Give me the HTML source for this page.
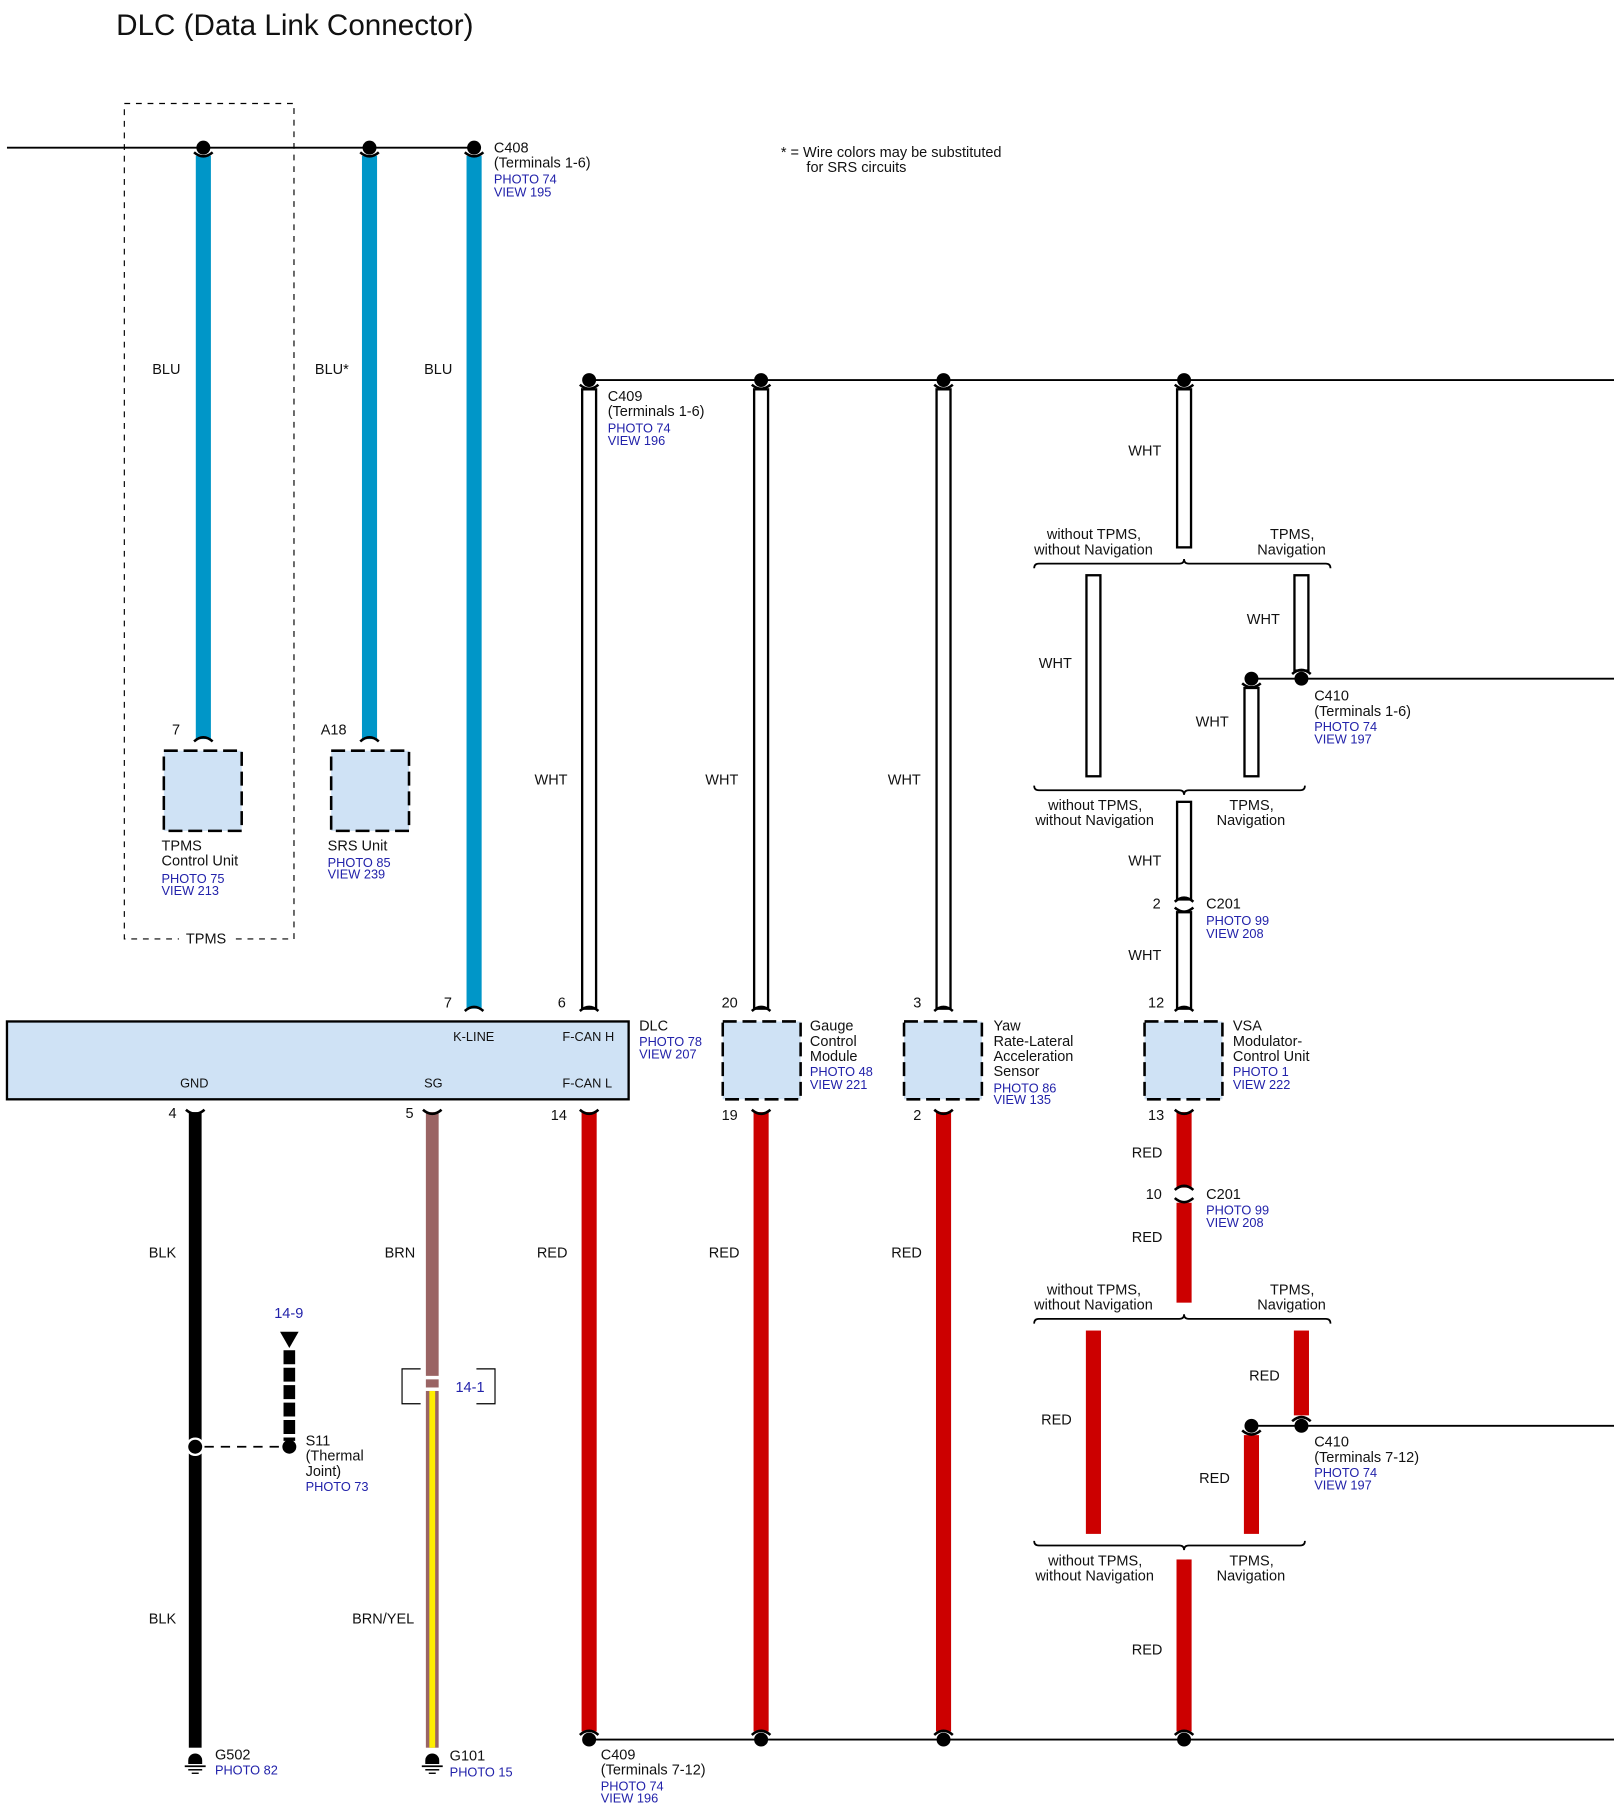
<!DOCTYPE html>
<html><head><meta charset="utf-8"><style>
html,body{margin:0;padding:0;background:#fff;}
svg{display:block}
text{font-family:"Liberation Sans",Arial,sans-serif;font-size:12.5px;fill:#111}
.b{fill:#2222aa}
</style></head><body>
<svg width="1614" height="1814" viewBox="0 0 1389 1561" xmlns="http://www.w3.org/2000/svg">
<defs>
<path id="capd" d="M-8,4 Q0,11 8,4" fill="none" stroke="#000" stroke-width="2.2"/>
<path id="capu" d="M-8,-4 Q0,-11 8,-4" fill="none" stroke="#000" stroke-width="2.2"/>
</defs>
<text x="100" y="30" style="font-size:25.5px">DLC (Data Link Connector)</text>

<!-- TPMS dashed box -->
<rect x="107" y="89" width="146" height="719" fill="none" stroke="#000" stroke-width="1" stroke-dasharray="5,5"/>
<rect x="154" y="800" width="46" height="16" fill="#fff"/>
<text x="160" y="812">TPMS</text>

<!-- top line -->
<line x1="6" y1="127" x2="408" y2="127" stroke="#000" stroke-width="1.6"/>
<g fill="#0096c8">
<rect x="168.5" y="134" width="13" height="502"/>
<rect x="311.5" y="134" width="13" height="502"/>
<rect x="401.5" y="134" width="13" height="734"/>
</g>
<g fill="#000"><circle cx="175" cy="127" r="6"/><circle cx="318" cy="127" r="6"/><circle cx="408" cy="127" r="6"/></g>
<use href="#capd" x="175" y="127"/><use href="#capd" x="318" y="127"/><use href="#capd" x="408" y="127"/>
<use href="#capu" x="175" y="642"/><use href="#capu" x="318" y="642"/><use href="#capu" x="408" y="874"/>
<text x="131" y="322">BLU</text><text x="271" y="322">BLU*</text><text x="365" y="322">BLU</text>
<text x="425" y="131">C408</text><text x="425" y="144">(Terminals 1-6)</text>
<text x="425" y="158" class="b" style="font-size:11px">PHOTO 74</text><text x="425" y="169" class="b" style="font-size:11px">VIEW 195</text>
<text x="672" y="135">* = Wire colors may be substituted</text><text x="694" y="148">for SRS circuits</text>

<!-- TPMS / SRS boxes -->
<rect x="141" y="646" width="67" height="69" fill="#cfe2f5" stroke="#000" stroke-width="2.2" stroke-dasharray="12,5"/>
<rect x="285" y="646" width="67" height="69" fill="#cfe2f5" stroke="#000" stroke-width="2.2" stroke-dasharray="12,5"/>
<text x="148" y="632">7</text><text x="276" y="632">A18</text>
<text x="139" y="732">TPMS</text><text x="139" y="745">Control Unit</text>
<text x="139" y="760" class="b" style="font-size:11px">PHOTO 75</text><text x="139" y="770" class="b" style="font-size:11px">VIEW 213</text>
<text x="282" y="732">SRS Unit</text>
<text x="282" y="746" class="b" style="font-size:11px">PHOTO 85</text><text x="282" y="756" class="b" style="font-size:11px">VIEW 239</text>

<!-- second line -->
<line x1="507" y1="327" x2="1389" y2="327" stroke="#000" stroke-width="1.6"/>
<g fill="#fff" stroke="#000" stroke-width="2">
<rect x="501" y="335" width="12" height="533"/>
<rect x="649" y="335" width="12" height="533"/>
<rect x="806" y="335" width="12" height="533"/>
<rect x="1013" y="335" width="12" height="136"/>
<rect x="935" y="495" width="12" height="173"/>
<rect x="1114" y="495" width="12" height="82"/>
<rect x="1071" y="592" width="12" height="76"/>
<rect x="1013" y="690" width="12" height="84"/>
<rect x="1013" y="785" width="12" height="83"/>
</g>
<g fill="#000"><circle cx="507" cy="327" r="6"/><circle cx="655" cy="327" r="6"/><circle cx="812" cy="327" r="6"/><circle cx="1019" cy="327" r="6"/></g>
<use href="#capd" x="507" y="327"/><use href="#capd" x="655" y="327"/><use href="#capd" x="812" y="327"/><use href="#capd" x="1019" y="327"/>
<use href="#capu" x="507" y="874"/><use href="#capu" x="655" y="874"/><use href="#capu" x="812" y="874"/><use href="#capu" x="1019" y="874"/>
<text x="523" y="345">C409</text><text x="523" y="358">(Terminals 1-6)</text>
<text x="523" y="372" class="b" style="font-size:11px">PHOTO 74</text><text x="523" y="383" class="b" style="font-size:11px">VIEW 196</text>
<text x="460" y="675">WHT</text><text x="607" y="675">WHT</text><text x="764" y="675">WHT</text><text x="971" y="392">WHT</text>

<!-- braces -->
<g fill="none" stroke="#000" stroke-width="1.5">
<path d="M890,489 Q890,485 894,485 L1015,485 Q1019,485 1019,481 Q1019,485 1023,485 L1141,485 Q1145,485 1145,489"/>
<path d="M890,676 Q890,680 894,680 L1015,680 Q1019,680 1019,684 Q1019,680 1023,680 L1119,680 Q1123,680 1123,676"/>
<path d="M890,1139 Q890,1135 894,1135 L1015,1135 Q1019,1135 1019,1131 Q1019,1135 1023,1135 L1141,1135 Q1145,1135 1145,1139"/>
<path d="M890,1326 Q890,1330 894,1330 L1015,1330 Q1019,1330 1019,1334 Q1019,1330 1023,1330 L1119,1330 Q1123,1330 1123,1326"/>
</g>
<text x="901" y="464">without TPMS,</text><text x="890" y="477">without Navigation</text>
<text x="1093" y="464">TPMS,</text><text x="1082" y="477">Navigation</text>
<text x="902" y="697">without TPMS,</text><text x="891" y="710">without Navigation</text>
<text x="1058" y="697">TPMS,</text><text x="1047" y="710">Navigation</text>
<text x="894" y="575">WHT</text><text x="1073" y="537">WHT</text><text x="1029" y="625">WHT</text>
<line x1="1077" y1="584" x2="1389" y2="584" stroke="#000" stroke-width="1.6"/>
<circle cx="1077" cy="584" r="6"/><circle cx="1120" cy="584" r="6"/>
<use href="#capu" x="1120" y="584"/><use href="#capd" x="1077" y="584"/>
<text x="1131" y="603">C410</text><text x="1131" y="616">(Terminals 1-6)</text>
<text x="1131" y="629" class="b" style="font-size:11px">PHOTO 74</text><text x="1131" y="640" class="b" style="font-size:11px">VIEW 197</text>
<use href="#capu" x="1019" y="780"/><use href="#capd" x="1019" y="777"/>
<text x="971" y="745">WHT</text><text x="992" y="782">2</text>
<text x="1038" y="782">C201</text>
<text x="1038" y="796" class="b" style="font-size:11px">PHOTO 99</text><text x="1038" y="807" class="b" style="font-size:11px">VIEW 208</text>
<text x="971" y="826">WHT</text>

<!-- DLC box -->
<rect x="6" y="879" width="535" height="67" fill="#cfe2f5" stroke="#000" stroke-width="2"/>
<text x="390" y="896" style="font-size:11px">K-LINE</text><text x="484" y="896" style="font-size:11px">F-CAN H</text>
<text x="155" y="936" style="font-size:11px">GND</text><text x="365" y="936" style="font-size:11px">SG</text><text x="484" y="936" style="font-size:11px">F-CAN L</text>
<text x="382" y="867">7</text><text x="480" y="867">6</text><text x="145" y="962">4</text><text x="349" y="962">5</text><text x="474" y="964">14</text>
<text x="550" y="887">DLC</text>
<text x="550" y="900" class="b" style="font-size:11px">PHOTO 78</text><text x="550" y="911" class="b" style="font-size:11px">VIEW 207</text>

<g fill="#cfe2f5" stroke="#000" stroke-width="2.2" stroke-dasharray="12,5">
<rect x="622" y="879" width="67" height="67"/>
<rect x="778" y="879" width="67" height="67"/>
<rect x="985" y="879" width="67" height="67"/>
</g>
<text x="621" y="867">20</text><text x="621" y="964">19</text>
<text x="786" y="867">3</text><text x="786" y="964">2</text>
<text x="988" y="867">12</text><text x="988" y="964">13</text>
<text x="697" y="887">Gauge</text><text x="697" y="900">Control</text><text x="697" y="913">Module</text>
<text x="697" y="926" class="b" style="font-size:11px">PHOTO 48</text><text x="697" y="937" class="b" style="font-size:11px">VIEW 221</text>
<text x="855" y="887">Yaw</text><text x="855" y="900">Rate-Lateral</text><text x="855" y="913">Acceleration</text><text x="855" y="926">Sensor</text>
<text x="855" y="940" class="b" style="font-size:11px">PHOTO 86</text><text x="855" y="950" class="b" style="font-size:11px">VIEW 135</text>
<text x="1061" y="887">VSA</text><text x="1061" y="900">Modulator-</text><text x="1061" y="913">Control Unit</text>
<text x="1061" y="926" class="b" style="font-size:11px">PHOTO 1</text><text x="1061" y="937" class="b" style="font-size:11px">VIEW 222</text>

<!-- bottom wires -->
<rect x="162.5" y="957" width="11" height="547" fill="#000"/>
<rect x="366.5" y="957" width="11" height="227" fill="#9a6464"/>
<rect x="366.5" y="1187" width="11" height="7" fill="#9a6464"/>
<rect x="366.5" y="1197" width="11" height="307" fill="#9a6464"/>
<rect x="369.5" y="1197" width="5" height="307" fill="#ffee00"/>
<g fill="#cc0000">
<rect x="500.5" y="957" width="13" height="533"/>
<rect x="648.5" y="957" width="13" height="533"/>
<rect x="805.5" y="957" width="13" height="533"/>
<rect x="1012.5" y="957" width="13" height="65"/>
<rect x="1012.5" y="1035" width="13" height="86"/>
<rect x="934.5" y="1145" width="13" height="175"/>
<rect x="1113.5" y="1145" width="13" height="73"/>
<rect x="1070.5" y="1235" width="13" height="85"/>
<rect x="1012.5" y="1342" width="13" height="148"/>
</g>
<use href="#capd" x="168" y="951"/><use href="#capd" x="372" y="951"/><use href="#capd" x="507" y="951"/><use href="#capd" x="655" y="951"/><use href="#capd" x="812" y="951"/><use href="#capd" x="1019" y="951"/>
<use href="#capu" x="1019" y="1028"/><use href="#capd" x="1019" y="1027"/>
<text x="128" y="1082">BLK</text><text x="331" y="1082">BRN</text><text x="462" y="1082">RED</text><text x="610" y="1082">RED</text><text x="767" y="1082">RED</text>
<text x="974" y="996">RED</text><text x="986" y="1032">10</text>
<text x="1038" y="1032">C201</text>
<text x="1038" y="1045" class="b" style="font-size:11px">PHOTO 99</text><text x="1038" y="1056" class="b" style="font-size:11px">VIEW 208</text>
<text x="974" y="1069">RED</text>
<text x="901" y="1114">without TPMS,</text><text x="890" y="1127">without Navigation</text>
<text x="1093" y="1114">TPMS,</text><text x="1082" y="1127">Navigation</text>
<text x="896" y="1226">RED</text><text x="1075" y="1188">RED</text><text x="1032" y="1276">RED</text>
<line x1="1077" y1="1227" x2="1389" y2="1227" stroke="#000" stroke-width="1.6"/>
<circle cx="1077" cy="1227" r="6"/><circle cx="1120" cy="1227" r="6"/>
<use href="#capu" x="1120" y="1227"/><use href="#capd" x="1077" y="1227"/>
<text x="1131" y="1245">C410</text><text x="1131" y="1258">(Terminals 7-12)</text>
<text x="1131" y="1271" class="b" style="font-size:11px">PHOTO 74</text><text x="1131" y="1282" class="b" style="font-size:11px">VIEW 197</text>
<text x="902" y="1347">without TPMS,</text><text x="891" y="1360">without Navigation</text>
<text x="1058" y="1347">TPMS,</text><text x="1047" y="1360">Navigation</text>
<text x="974" y="1424">RED</text>

<!-- bottom line -->
<line x1="507" y1="1497" x2="1389" y2="1497" stroke="#000" stroke-width="1.6"/>
<g fill="#000"><circle cx="507" cy="1497" r="6"/><circle cx="655" cy="1497" r="6"/><circle cx="812" cy="1497" r="6"/><circle cx="1019" cy="1497" r="6"/></g>
<use href="#capu" x="507" y="1497"/><use href="#capu" x="655" y="1497"/><use href="#capu" x="812" y="1497"/><use href="#capu" x="1019" y="1497"/>
<text x="517" y="1514">C409</text><text x="517" y="1527">(Terminals 7-12)</text>
<text x="517" y="1541" class="b" style="font-size:11px">PHOTO 74</text><text x="517" y="1551" class="b" style="font-size:11px">VIEW 196</text>

<!-- S11 -->
<circle cx="168" cy="1245" r="8" fill="#fff"/><circle cx="168" cy="1245" r="6" fill="#000"/>
<line x1="176" y1="1245" x2="243" y2="1245" stroke="#000" stroke-width="1.5" stroke-dasharray="8,6"/>
<circle cx="249" cy="1245" r="6" fill="#000"/>
<text x="236" y="1134" class="b">14-9</text>
<path d="M241,1146 L257,1146 L249,1160 Z" fill="#000"/>
<line x1="249" y1="1162" x2="249" y2="1240" stroke="#000" stroke-width="10" stroke-dasharray="12,3"/>
<text x="263" y="1244">S11</text><text x="263" y="1257">(Thermal</text><text x="263" y="1270">Joint)</text>
<text x="263" y="1283" class="b" style="font-size:11px">PHOTO 73</text>
<path d="M362,1178 L346,1178 L346,1208 L362,1208 M410,1178 L426,1178 L426,1208 L410,1208" fill="none" stroke="#000" stroke-width="1"/>
<text x="392" y="1198" class="b">14-1</text>
<text x="128" y="1397">BLK</text><text x="303" y="1397">BRN/YEL</text>

<!-- grounds -->
<g fill="#000" stroke="#000">
<path d="M162,1515 A6,6 0 0 1 174,1515 L174,1518 L162,1518 Z" stroke="none"/>
<line x1="159" y1="1520" x2="177" y2="1520" stroke-width="1.5"/><line x1="162" y1="1523" x2="174" y2="1523" stroke-width="1.3"/><line x1="165" y1="1526" x2="171" y2="1526" stroke-width="1.2"/>
<path d="M366,1515 A6,6 0 0 1 378,1515 L378,1518 L366,1518 Z" stroke="none"/>
<line x1="363" y1="1520" x2="381" y2="1520" stroke-width="1.5"/><line x1="366" y1="1523" x2="378" y2="1523" stroke-width="1.3"/><line x1="369" y1="1526" x2="375" y2="1526" stroke-width="1.2"/>
</g>
<text x="185" y="1514">G502</text><text x="185" y="1527" class="b" style="font-size:11px">PHOTO 82</text>
<text x="387" y="1515">G101</text><text x="387" y="1529" class="b" style="font-size:11px">PHOTO 15</text>
</svg>
</body></html>
